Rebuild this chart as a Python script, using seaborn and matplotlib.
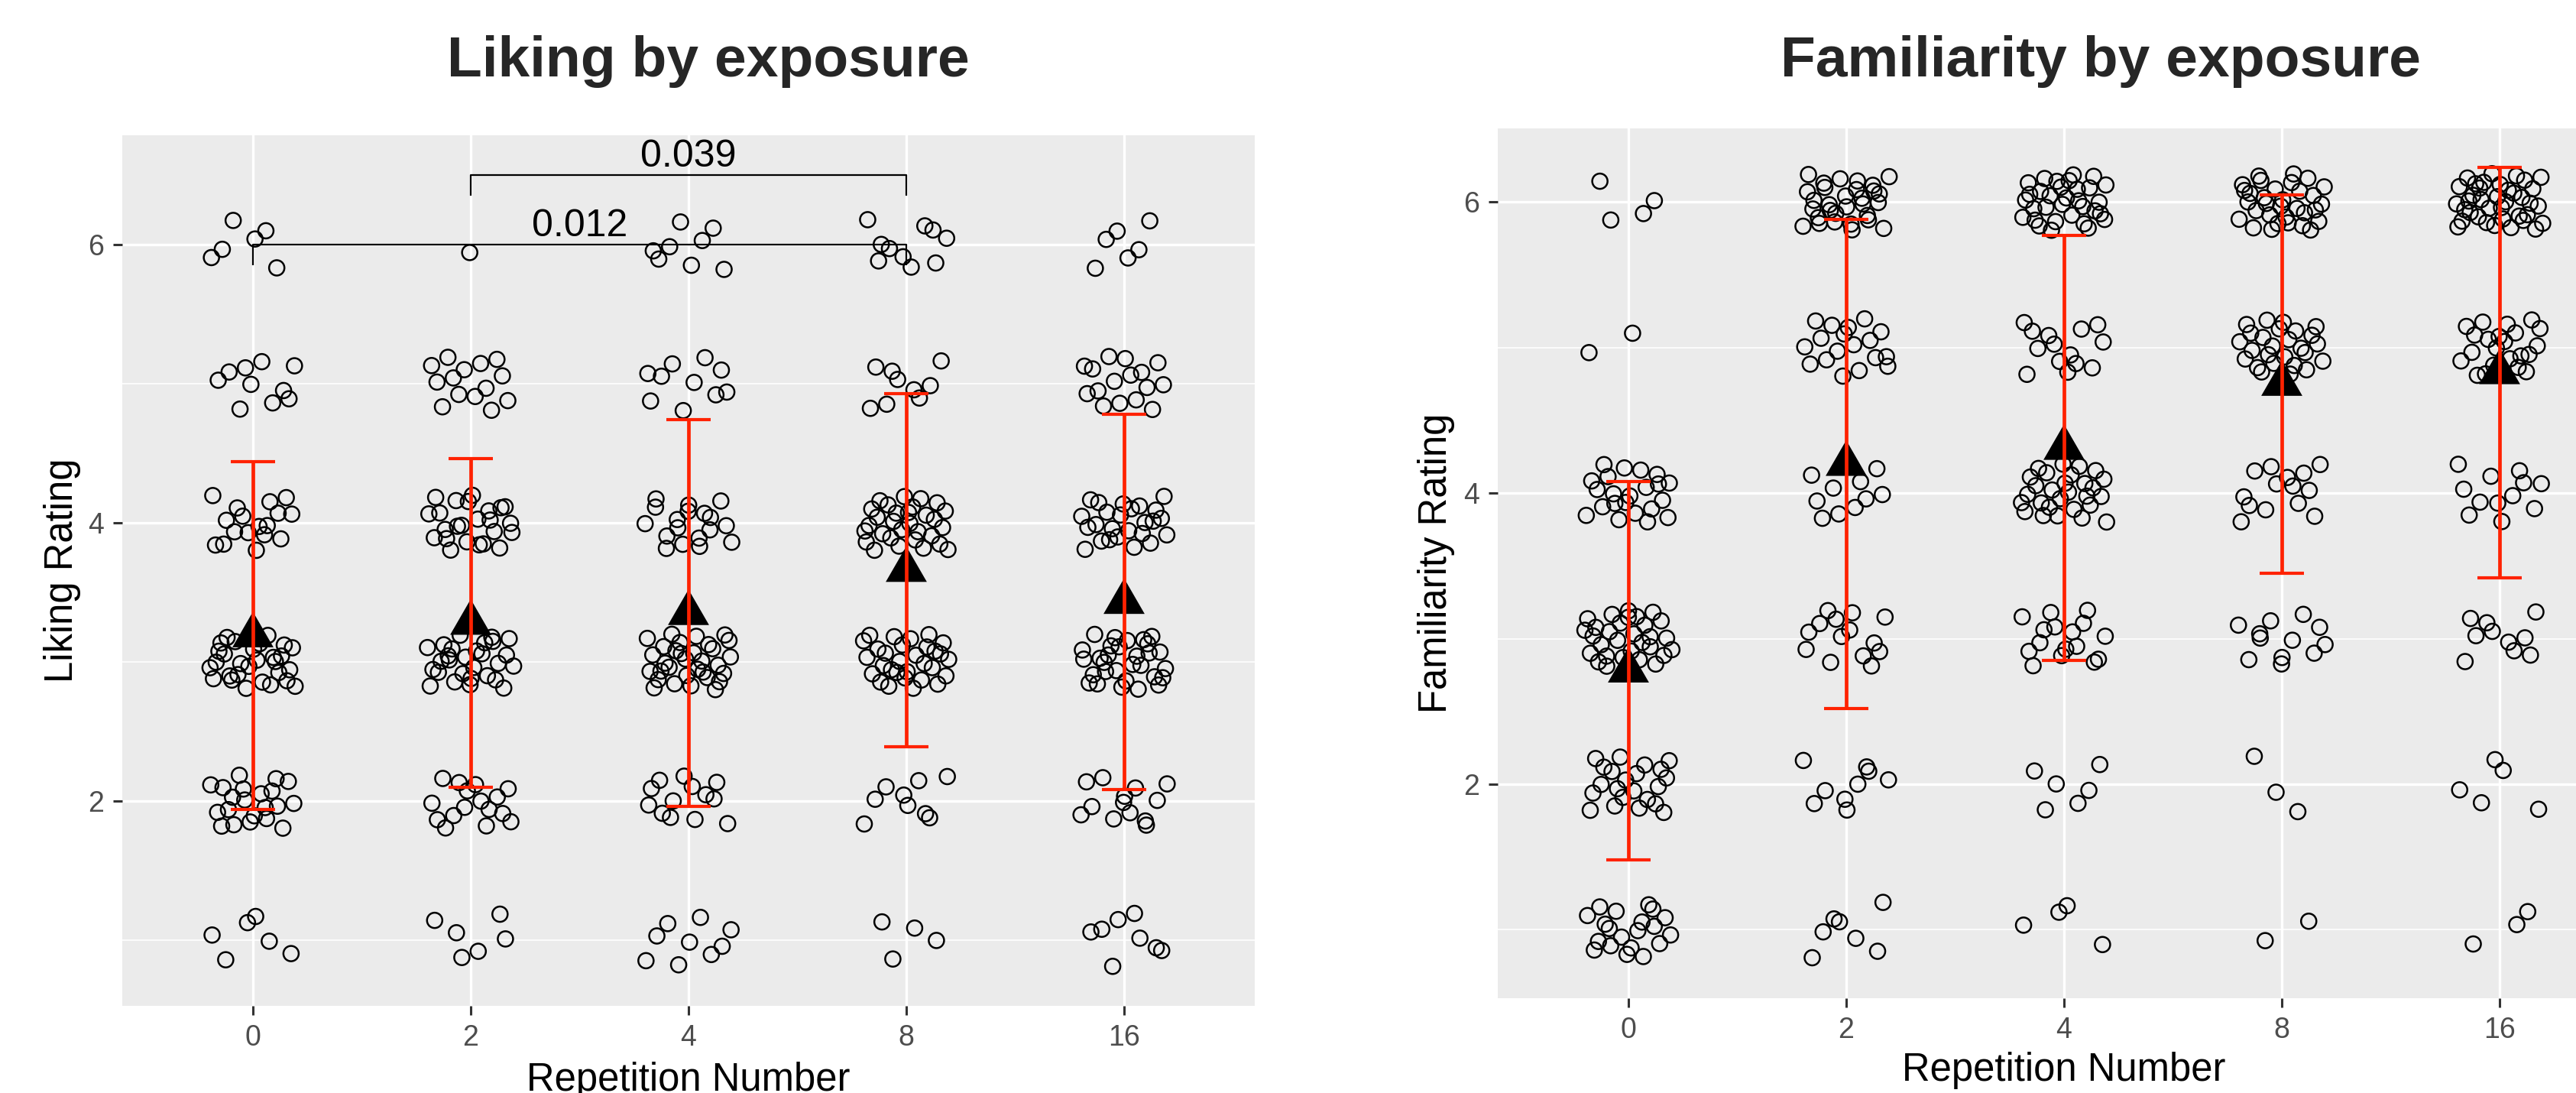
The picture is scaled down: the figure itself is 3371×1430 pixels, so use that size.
import numpy as np
import pandas as pd
import matplotlib
matplotlib.use("Agg")
import matplotlib.pyplot as plt
from matplotlib.path import Path
from matplotlib.ticker import FixedLocator
import seaborn as sns

# ---------------------------------------------------------------- data
repetitions = ["0", "2", "4", "8", "16"]
rating_levels = [1, 2, 3, 4, 5, 6]

# number of responses at each rating level (1..6) for every repetition
liking_counts = [
    [6, 21, 30, 17, 10, 6],
    [6, 16, 28, 24, 14, 1],
    [9, 13, 32, 18, 10, 8],
    [4, 9, 30, 30, 9, 10],
    [8, 13, 30, 25, 16, 6],
]
familiarity_counts = [
    [20, 22, 30, 22, 2, 4],
    [7, 9, 14, 10, 18, 30],
    [4, 6, 16, 28, 14, 32],
    [2, 3, 12, 14, 26, 32],
    [3, 5, 10, 12, 22, 38],
]

# summary per repetition: mean and standard deviation
liking_mean = [3.19, 3.28, 3.35, 3.66, 3.43]
liking_sd = [1.25, 1.18, 1.39, 1.27, 1.35]
familiarity_mean = [2.78, 4.20, 4.31, 4.75, 4.83]
familiarity_sd = [1.30, 1.68, 1.46, 1.30, 1.41]

# pairwise comparisons shown as brackets on the liking panel
comparison_pairs = [("0", "8"), ("2", "8")]
comparison_p = ["0.012", "0.039"]
comparison_y = [6.0, 6.5]

# ---------------------------------------------------------------- style
W_PX, H_PX, DPI = 3371, 1430, 200
RED = "#FF2200"
BG = "#EBEBEB"
JITTER_W, JITTER_H = 0.2, 0.2

sns.set_theme(style="darkgrid", rc={
    "axes.facecolor": BG,
    "grid.color": "white",
    "axes.edgecolor": BG,
})
plt.rcParams["font.family"] = ["Liberation Sans", "DejaVu Sans"]


def halton(i, base):
    """Low-discrepancy sequence used to spread overlapping ratings."""
    f, r = 1.0, 0.0
    while i > 0:
        f /= base
        r += f * (i % base)
        i //= base
    return r


def long_table(counts, start):
    rows = []
    k = start
    for g, rep in enumerate(repetitions):
        for lvl, n in zip(rating_levels, counts[g]):
            for _ in range(n):
                k += 1
                rows.append((rep, g, lvl, halton(k, 2), halton(k, 3)))
    df = pd.DataFrame(rows, columns=["rep", "pos", "rating", "u", "v"])
    df["x"] = df["pos"] + (df["u"] - 0.5) * 2 * JITTER_W
    df["y"] = df["rating"] + (df["v"] - 0.5) * 2 * JITTER_H
    return df


# equilateral triangle centred on its centroid
TRIANGLE = Path([(0.0, 0.5774), (-0.5, -0.2887), (0.5, -0.2887), (0.0, 0.5774)],
                [Path.MOVETO, Path.LINETO, Path.LINETO, Path.CLOSEPOLY])


def draw_panel(ax, df, means, sds, ylim, ylabel, xlabel_y, ylabel_x):
    pos = np.arange(len(repetitions))
    sns.scatterplot(data=df, x="x", y="y", ax=ax, marker="o", s=52,
                    facecolor="none", edgecolor="black", linewidth=0.9,
                    legend=False, zorder=3)
    sns.scatterplot(x=pos, y=means, ax=ax, marker=TRIANGLE, s=500,
                    color="black", edgecolor="none", linewidth=0,
                    legend=False, zorder=4)
    ax.errorbar(pos, means, yerr=sds, fmt="none", ecolor=RED,
                elinewidth=1.7, capsize=10.3, capthick=1.5, zorder=5)

    ax.set_xlim(-0.6, len(repetitions) - 0.4)
    ax.set_ylim(*ylim)
    ax.set_xticks(pos)
    ax.set_xticklabels(repetitions)
    ax.set_yticks([2, 4, 6])
    ax.yaxis.set_minor_locator(FixedLocator([1, 3, 5]))
    ax.grid(which="major", color="white", linewidth=1.2)
    ax.grid(which="minor", axis="y", color="white", linewidth=0.6)
    ax.grid(which="minor", axis="x", visible=False)
    ax.set_axisbelow(True)
    for s in ax.spines.values():
        s.set_visible(False)
    ax.tick_params(which="major", length=4.3, width=1.1, color="#333333",
                   labelsize=13.5, labelcolor="#4D4D4D", pad=4.5,
                   bottom=True, left=True)
    ax.tick_params(which="minor", length=0)

    ax.set_xlabel("Repetition Number", fontsize=18.3, color="black",
                  va="baseline")
    ax.xaxis.set_label_coords(0.5, xlabel_y)
    ax.set_ylabel(ylabel, fontsize=18.3, color="black", va="center")
    ax.yaxis.set_label_coords(ylabel_x, 0.5)


fig = plt.figure(figsize=(W_PX / DPI, H_PX / DPI), dpi=DPI)
ax1 = fig.add_axes([160 / W_PX, (H_PX - 1316) / H_PX, 1482 / W_PX, 1139 / H_PX])
ax2 = fig.add_axes([1960 / W_PX, (H_PX - 1306) / H_PX, 1482 / W_PX, 1138 / H_PX])

liking_df = long_table(liking_counts, 11)
familiarity_df = long_table(familiarity_counts, 977)

draw_panel(ax1, liking_df, liking_mean, liking_sd, (0.528, 6.784),
           "Liking Rating", -0.0975, -0.0533)
draw_panel(ax2, familiarity_df, familiarity_mean, familiarity_sd, (0.529, 6.506),
           "Familiarity Rating", -0.0949, -0.054)

# significance brackets
for (a, b), label, y in zip(comparison_pairs, comparison_p, comparison_y):
    x1, x2 = repetitions.index(a), repetitions.index(b)
    ax1.plot([x1, x1, x2, x2], [y - 0.15, y, y, y - 0.15], color="black",
             linewidth=0.8, zorder=6, solid_capstyle="butt")
    ax1.text((x1 + x2) / 2, y + 0.058, label, ha="center", va="baseline",
             fontsize=18, color="black", zorder=6)

fig.text(927 / W_PX, 1 - 100 / H_PX, "Liking by exposure", ha="center",
         va="baseline", fontsize=27, fontweight="bold")
fig.text(2749 / W_PX, 1 - 100 / H_PX, "Familiarity by exposure", ha="center",
         va="baseline", fontsize=27, fontweight="bold")

fig.savefig("out.png", dpi=DPI, facecolor="white")
